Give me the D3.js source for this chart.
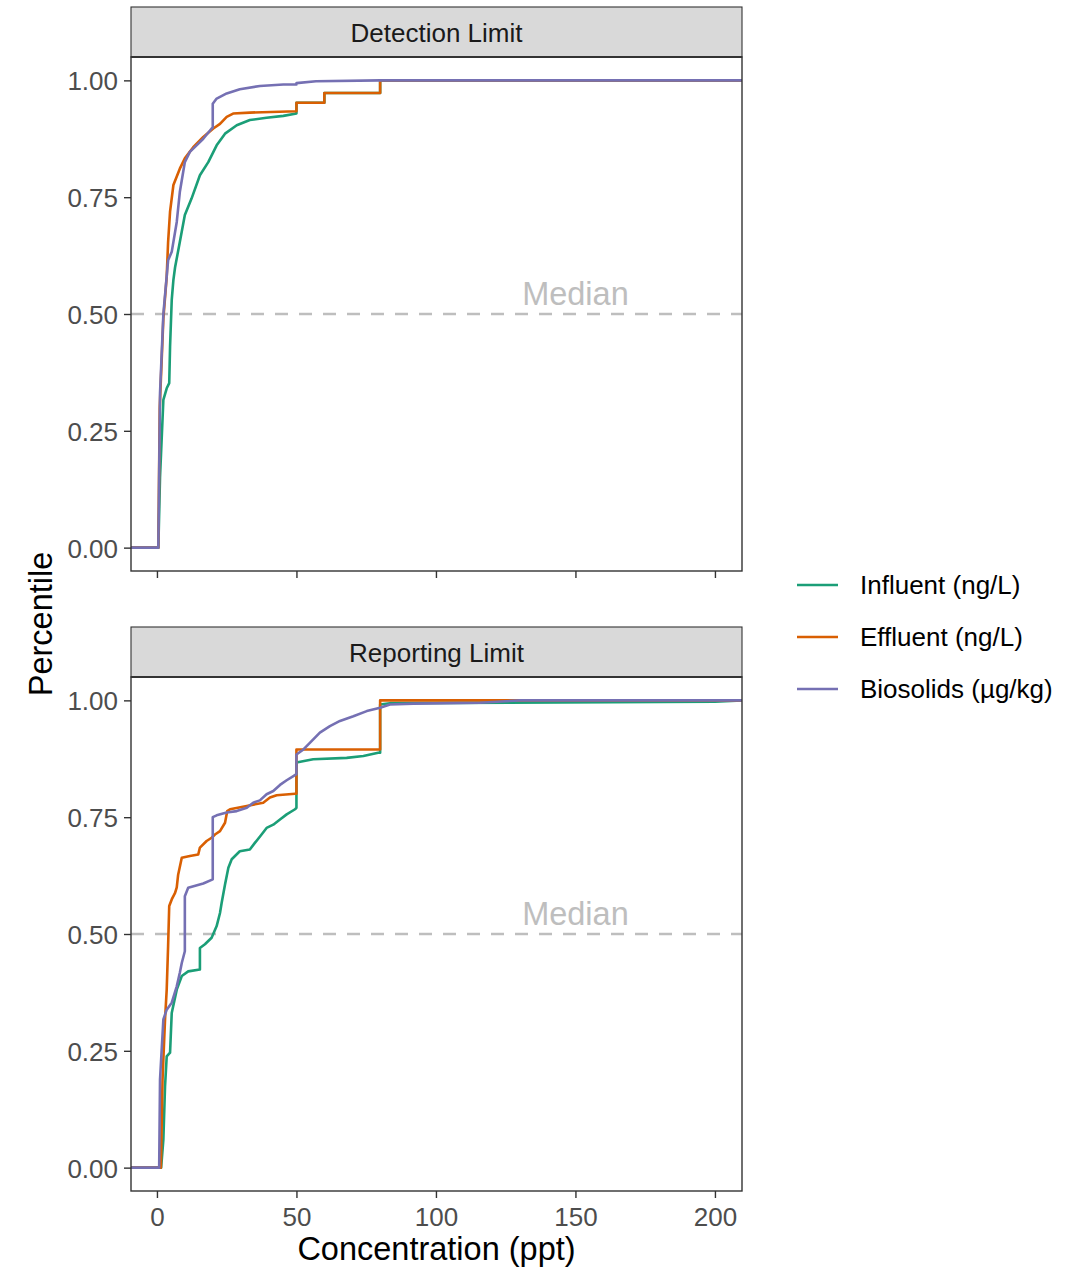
<!DOCTYPE html>
<html>
<head>
<meta charset="utf-8">
<script src="https://cdn.jsdelivr.net/npm/d3@7"></script>
<style>
  body { margin: 0; background: #fff; }
  svg { font-family: "Liberation Sans", Arial, sans-serif; }
</style>
</head>
<body>
<svg id="chart"></svg>
<script>
// panels and series
var panels = ["Detection Limit", "Reporting Limit"];
var seriesNames = ["Influent (ng/L)", "Effluent (ng/L)", "Biosolids (\u00b5g/kg)"];
var xTicks = [0, 50, 100, 150, 200];
var yTicks = [0, 0.25, 0.5, 0.75, 1];
var medianValue = 0.5;

// Detection limit, cumulative percentile by concentration
var detInfluentConc = [0.5, 1.1, 2.3, 3.5, 4.4, 4.7, 5.3, 5.9, 6.5, 8.2, 10, 12.4, 15.4, 18.4, 21.4, 24.4, 28.6, 33.3, 39.3, 45.3, 50, 50, 60, 60, 80, 80];
var detInfluentPct = [0, 0.15, 0.316, 0.341, 0.352, 0.43, 0.53, 0.573, 0.60, 0.654, 0.712, 0.747, 0.797, 0.825, 0.861, 0.886, 0.904, 0.915, 0.920, 0.924, 0.929, 0.952, 0.952, 0.973, 0.973, 1.0];
var detEffluentConc = [0.5, 1.0, 2.3, 3.5, 4.0, 4.7, 5.9, 8.2, 10, 13, 16.6, 20.2, 22.6, 25, 27.3, 33.3, 50, 50, 60, 60, 80, 80];
var detEffluentPct = [0, 0.3, 0.49, 0.58, 0.654, 0.719, 0.776, 0.811, 0.833, 0.857, 0.879, 0.897, 0.907, 0.922, 0.929, 0.931, 0.934, 0.952, 0.952, 0.973, 0.973, 1.0];
var detBiosolidsConc = [0.5, 1.1, 2.3, 4.0, 5.3, 7.1, 8.2, 9.4, 10, 11.8, 14.2, 16.6, 19.6, 20, 20, 21.4, 25, 29.7, 36.9, 45.3, 50, 50, 57, 80];
var detBiosolidsPct = [0, 0.33, 0.50, 0.615, 0.633, 0.697, 0.761, 0.804, 0.825, 0.847, 0.861, 0.875, 0.897, 0.899, 0.950, 0.961, 0.972, 0.981, 0.988, 0.991, 0.991, 0.994, 0.998, 1.0];

// Reporting limit
var repInfluentConc = [1.5, 2.3, 2.9, 3.5, 4.7, 5.3, 7.1, 8.9, 11.2, 15.4, 15.4, 17.2, 19.6, 21.4, 22.6, 23.2, 24.4, 25.6, 26.8, 29.7, 33.3, 35.1, 37.5, 39.3, 41.7, 44.1, 46.5, 49.5, 50, 50, 56, 68, 74, 79.3, 80, 80, 83.5, 200];
var repInfluentPct = [0, 0.06, 0.174, 0.238, 0.246, 0.331, 0.381, 0.410, 0.420, 0.424, 0.470, 0.478, 0.492, 0.517, 0.545, 0.567, 0.606, 0.642, 0.660, 0.677, 0.681, 0.695, 0.713, 0.727, 0.734, 0.745, 0.756, 0.767, 0.770, 0.867, 0.874, 0.877, 0.881, 0.888, 0.888, 0.991, 0.994, 0.997];
var repEffluentConc = [1.4, 2.0, 2.9, 3.5, 4.0, 4.4, 5.3, 6.5, 7.1, 7.6, 8.9, 11.8, 14.8, 15.4, 17.8, 19.6, 20.8, 22.6, 24.4, 25.2, 26.2, 32.2, 38.1, 40.5, 42.9, 49.5, 50, 50, 80, 80];
var repEffluentPct = [0, 0.188, 0.317, 0.381, 0.474, 0.560, 0.574, 0.588, 0.600, 0.627, 0.663, 0.667, 0.670, 0.685, 0.699, 0.706, 0.713, 0.720, 0.738, 0.763, 0.767, 0.774, 0.781, 0.792, 0.797, 0.800, 0.800, 0.895, 0.895, 1.0];
var repBiosolidsConc = [0.8, 1.1, 2.3, 3.5, 5.3, 7.1, 8.2, 8.9, 10, 10, 11.2, 16.6, 20, 20, 21.4, 25, 28.6, 32.2, 34.5, 36.9, 39.3, 41.7, 44.1, 46.5, 48.9, 50, 50, 52.5, 54.8, 58.4, 62, 65.6, 70.4, 75.2, 80, 83.5, 91.9, 115.8, 130];
var repBiosolidsPct = [0, 0.188, 0.317, 0.338, 0.353, 0.388, 0.417, 0.438, 0.463, 0.581, 0.599, 0.608, 0.617, 0.750, 0.754, 0.760, 0.763, 0.770, 0.781, 0.786, 0.799, 0.806, 0.819, 0.829, 0.838, 0.842, 0.884, 0.895, 0.909, 0.931, 0.945, 0.956, 0.966, 0.977, 0.984, 0.991, 0.993, 0.995, 1.0];

var panelData = [
  [[detInfluentConc, detInfluentPct], [detEffluentConc, detEffluentPct], [detBiosolidsConc, detBiosolidsPct]],
  [[repInfluentConc, repInfluentPct], [repEffluentConc, repEffluentPct], [repBiosolidsConc, repBiosolidsPct]]
];

var colors = ["#1B9E77", "#D95F02", "#7570B3"];

var width = 1071, height = 1269;
var svg = d3.select("#chart").attr("width", width).attr("height", height);

var left = 131, right = 742;
var panelTops = [57, 677], panelH = 514, stripH = 50;

var x = d3.scaleLinear().domain([-9.3, 209.7]).range([left, right]);

panels.forEach(function(name, p) {
  var top = panelTops[p];
  var y = d3.scaleLinear().domain([-0.05, 1.05]).range([top + panelH, top]);
  var g = svg.append("g");

  // clip for lines
  g.append("clipPath").attr("id", "clip" + p)
    .append("rect").attr("x", left).attr("y", top).attr("width", right - left).attr("height", panelH);

  // median reference
  g.append("line")
    .attr("x1", left).attr("x2", right)
    .attr("y1", y(medianValue)).attr("y2", y(medianValue))
    .attr("stroke", "#BEBEBE").attr("stroke-width", 2.5)
    .attr("stroke-dasharray", "13,11");
  g.append("text")
    .attr("x", x(150)).attr("y", y(medianValue) - 9)
    .attr("text-anchor", "middle")
    .attr("font-size", 32.5).attr("fill", "#BEBEBE")
    .text("Median");

  var line = d3.line().x(function(d) { return x(d[0]); }).y(function(d) { return y(d[1]); });

  panelData[p].forEach(function(s, i) {
    var pts = s[0].map(function(c, k) { return [c, s[1][k]]; });
    pts.unshift([x.domain()[0], 0]);
    pts.push([x.domain()[1], 1]);
    g.append("path")
      .attr("clip-path", "url(#clip" + p + ")")
      .attr("d", line(pts))
      .attr("fill", "none")
      .attr("stroke", colors[i])
      .attr("stroke-width", 2.6)
      .attr("stroke-linejoin", "round");
  });

  // panel border
  g.append("rect")
    .attr("x", left).attr("y", top).attr("width", right - left).attr("height", panelH)
    .attr("fill", "none").attr("stroke", "#333333").attr("stroke-width", 1.4);

  // strip
  g.append("rect")
    .attr("x", left).attr("y", top - stripH).attr("width", right - left).attr("height", stripH)
    .attr("fill", "#D9D9D9").attr("stroke", "#333333").attr("stroke-width", 1.1);
  g.append("line")
    .attr("x1", left).attr("x2", right).attr("y1", top).attr("y2", top)
    .attr("stroke", "#333333").attr("stroke-width", 2.2);
  g.append("text")
    .attr("x", (left + right) / 2).attr("y", top - stripH / 2 + 10)
    .attr("text-anchor", "middle").attr("font-size", 26).attr("fill", "#1A1A1A")
    .text(name);

  // y axis
  var yAxis = g.append("g").attr("transform", "translate(" + left + ",0)")
    .call(d3.axisLeft(y).tickValues(yTicks).tickFormat(d3.format(".2f")).tickSize(7).tickPadding(6));
  yAxis.select(".domain").remove();
  yAxis.selectAll(".tick line").attr("stroke", "#333333").attr("stroke-width", 1.4);
  yAxis.selectAll(".tick text").attr("font-size", 26).attr("fill", "#4D4D4D").attr("dy", "0.36em")
    .attr("font-family", "Liberation Sans, Arial, sans-serif");

  // x axis
  var xAxis = g.append("g").attr("transform", "translate(0," + (top + panelH) + ")")
    .call(d3.axisBottom(x).tickValues(xTicks).tickSize(7).tickPadding(10));
  xAxis.select(".domain").remove();
  xAxis.selectAll(".tick line").attr("stroke", "#333333").attr("stroke-width", 1.4);
  xAxis.selectAll(".tick text").attr("font-size", 26).attr("fill", "#4D4D4D")
    .attr("font-family", "Liberation Sans, Arial, sans-serif");
  if (p === 0) xAxis.selectAll(".tick text").remove();
});

// axis titles
svg.append("text")
  .attr("x", (left + right) / 2).attr("y", 1260)
  .attr("text-anchor", "middle").attr("font-size", 32.5).attr("fill", "#000")
  .text("Concentration (ppt)");
svg.append("text")
  .attr("transform", "translate(52,624)rotate(-90)")
  .attr("text-anchor", "middle").attr("font-size", 32.5).attr("fill", "#000")
  .text("Percentile");

// legend
var legend = svg.append("g").attr("transform", "translate(797,585)");
seriesNames.forEach(function(n, i) {
  var row = legend.append("g").attr("transform", "translate(0," + (i * 52) + ")");
  row.append("line").attr("x1", 0).attr("x2", 41).attr("y1", 0).attr("y2", 0)
    .attr("stroke", colors[i]).attr("stroke-width", 2.6);
  row.append("text").attr("x", 63).attr("y", 9)
    .attr("font-size", 26).attr("fill", "#000").text(n);
});
</script>
</body>
</html>
